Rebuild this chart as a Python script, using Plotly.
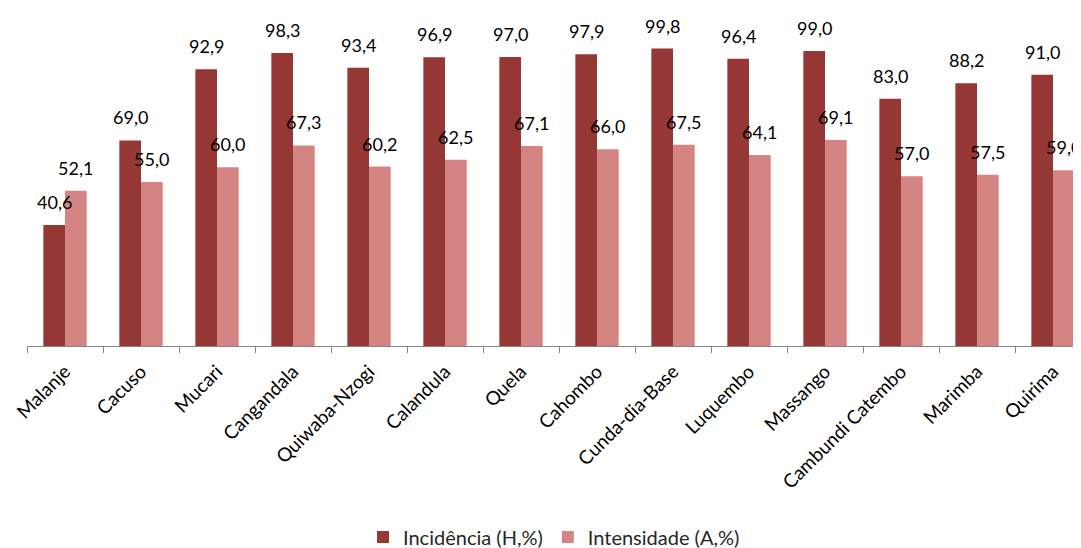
import plotly.graph_objects as go

categories = ["Malanje", "Cacuso", "Mucari", "Cangandala", "Quiwaba-Nzogi", "Calandula",
              "Quela", "Cahombo", "Cunda-dia-Base", "Luquembo", "Massango",
              "Cambundi Catembo", "Marimba", "Quirima"]
incidencia = [40.6, 69.0, 92.9, 98.3, 93.4, 96.9, 97.0, 97.9, 99.8, 96.4, 99.0, 83.0, 88.2, 91.0]
intensidade = [52.1, 55.0, 60.0, 67.3, 60.2, 62.5, 67.1, 66.0, 67.5, 64.1, 69.1, 57.0, 57.5, 59.0]

dark = "#953735"
light = "#D48583"
FONT = "Lato, 'Open Sans', sans-serif"

fig = go.Figure()
fig.add_trace(go.Bar(x=categories, y=incidencia, name="Incidência (H,%)",
                     marker=dict(color=dark, line=dict(width=0))))
fig.add_trace(go.Bar(x=categories, y=intensidade, name="Intensidade (A,%)",
                     marker=dict(color=light, line=dict(width=0))))

def fmt(v):
    return f"{v:.1f}".replace(".", ",")

annotations = []
for c, v in zip(categories, incidencia):
    annotations.append(dict(x=c, y=v, xref="x", yref="y", text=fmt(v), showarrow=False,
                            xshift=-10.75, yanchor="bottom", yshift=10,
                            font=dict(family=FONT, size=18, color="#000000")))
for c, v in zip(categories, intensidade):
    annotations.append(dict(x=c, y=v, xref="x", yref="y", text=fmt(v), showarrow=False,
                            xshift=10.75, yanchor="bottom", yshift=10,
                            font=dict(family=FONT, size=18, color="#000000")))

fig.update_layout(
    width=1073, height=540,
    margin=dict(l=19, r=0, t=10, b=202, autoexpand=False),
    paper_bgcolor="white", plot_bgcolor="white",
    barmode="group", bargap=0.43, bargroupgap=0,
    font=dict(family=FONT, color="#000000"),
    annotations=annotations,
    showlegend=True,
    legend=dict(orientation="h", x=0.5, xanchor="center", y=-0.582, yanchor="middle",
                font=dict(family=FONT, size=20, color="#262626"),
                itemwidth=30, traceorder="normal"),
    xaxis=dict(type="category", range=[-0.5, 13.368], tickangle=-45, automargin=False,
               tickson="boundaries", ticks="outside", ticklen=6, tickcolor="#868686",
               ticklabelstandoff=6,
               showline=True, linecolor="#868686", linewidth=1,
               tickfont=dict(family=FONT, size=19, color="#000000"),
               showgrid=False, zeroline=False),
    yaxis=dict(range=[0, 110.07], visible=False, showgrid=False, zeroline=False,
               automargin=False),
)

fig.write_html("out.html")
